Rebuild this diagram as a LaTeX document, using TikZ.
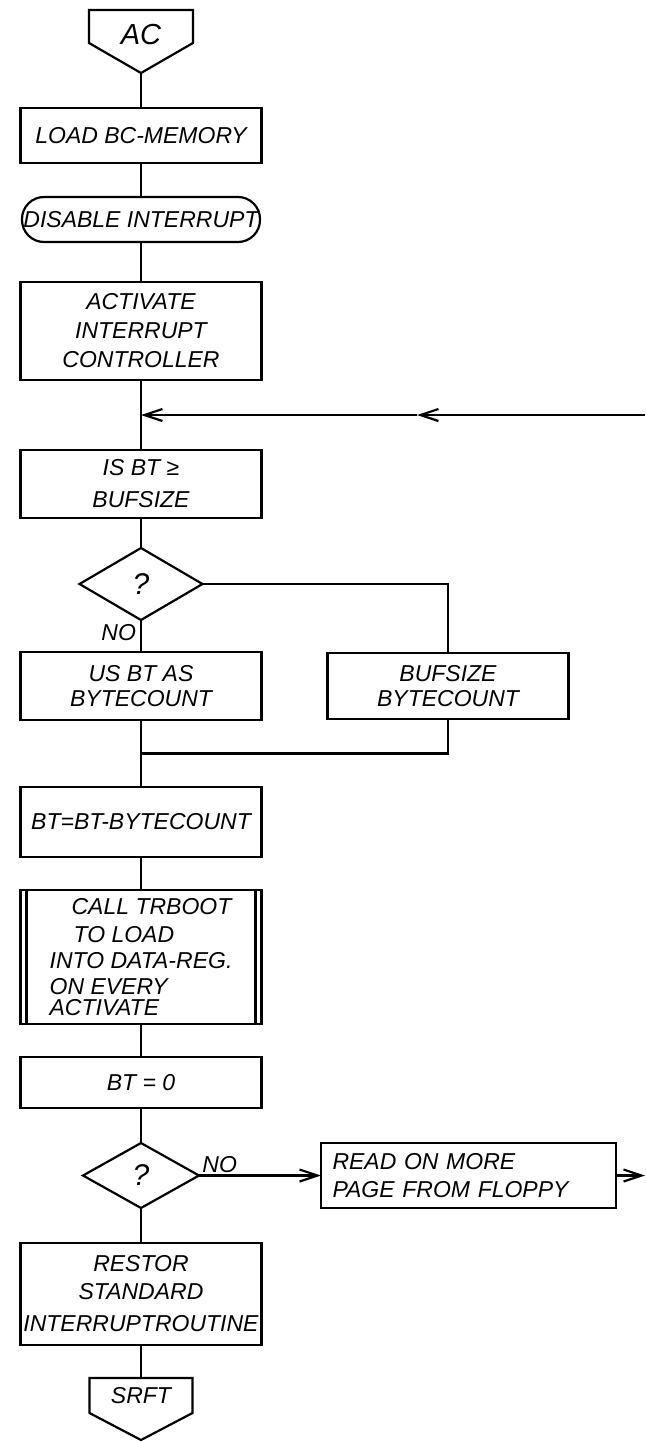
\documentclass[tikz,border=0pt]{standalone}
\usepackage{fontspec}
\setmainfont{Liberation Sans}
\usetikzlibrary{arrows.meta,positioning,calc,shapes.geometric}

\begin{document}
\begin{tikzpicture}[x=1pt,y=1pt,line width=2.2pt,
    font=\itshape\fontsize{23}{29}\selectfont,
    >={Straight Barb[length=18pt,width=12pt]},
    box/.style={draw,rectangle,minimum width=241pt,inner sep=0pt,outer sep=0pt,align=center},
    term/.style={draw,rectangle,rounded corners=22pt,minimum width=238pt,minimum height=45pt,inner sep=0pt,outer sep=0pt},
    decide/.style={draw,diamond,inner sep=0pt,outer sep=0pt,font=\itshape\fontsize{30}{30}\selectfont},
    conn/.style={rectangle,inner sep=0pt,outer sep=0pt}]
  \useasboundingbox (0,0) rectangle (645,-1442);

  % entry connector
  \node[conn,minimum width=104pt,minimum height=50pt,font=\itshape\fontsize{29}{30}\selectfont] (ac) at (141,-35) {AC};
  \coordinate (actip) at ([yshift=-13pt]ac.south);
  \draw (ac.north west) -- (ac.north east) -- ([yshift=17pt]ac.south east) -- (actip) -- ([yshift=17pt]ac.south west) -- cycle;

  \node[box,minimum height=55pt,below=48pt of ac] (load) {LOAD BC-MEMORY};
  \node[term,below=34pt of load] (disable) {DISABLE INTERRUPT};
  \node[box,minimum height=98pt,below=40pt of disable] (activate) {ACTIVATE\\INTERRUPT\\CONTROLLER};
  \node[box,minimum height=68pt,below=70pt of activate] (isbt) {IS BT ≥\\[3pt]BUFSIZE};

  % first question
  \node[decide,minimum width=123pt,minimum height=72pt,below=30pt of isbt] (q1) {?};
  \node[box,minimum height=68pt,below=32pt of q1] (usbt) {US BT AS\\[-4pt]BYTECOUNT};
  \node[box,minimum height=66pt,right=66pt of usbt] (bufsize) {BUFSIZE\\[-4pt]BYTECOUNT};

  \node[box,minimum height=70pt,below=67pt of usbt] (btcalc) {BT=BT-BYTECOUNT};
  \node[box,minimum height=134pt,below=33pt of btcalc,align=left] (trboot) {\hspace*{22pt}CALL TRBOOT\\[-1pt]\hspace*{24pt}TO LOAD\\[-3pt]INTO DATA-REG.\\[-3pt]ON EVERY\\[-8pt]ACTIVATE};
  \node[box,minimum height=51pt,below=33pt of trboot] (btzero) {BT = 0};

  % second question
  \node[decide,minimum width=116pt,minimum height=65pt,below=35pt of btzero] (q2) {?};
  \node[box,minimum width=295pt,minimum height=65pt,text width=272pt,align=left,right=122pt of q2] (readpage) {READ ON MORE\\[-1pt]PAGE FROM FLOPPY};
  \node[box,minimum height=102pt,below=35pt of q2] (restore) {RESTOR\\[-1pt]STANDARD\\[3pt]INTERRUPTROUTINE};

  % exit connector
  \node[conn,minimum width=103pt,minimum height=35pt,below=33pt of restore] (srft) {SRFT};
  \coordinate (srfttip) at ([yshift=-27pt]srft.south);
  \draw (srft.north west) -- (srft.north east) -- (srft.south east) -- (srfttip) -- (srft.south west) -- cycle;

  % predefined process bars
  \draw ([xshift=6pt]trboot.north west) -- ([xshift=6pt]trboot.south west);
  \draw ([xshift=-6pt]trboot.north east) -- ([xshift=-6pt]trboot.south east);

  \coordinate (loopjoin) at ($(activate.south)!0.5!(isbt.north)$);
  \coordinate (loopmid) at ([xshift=276pt]loopjoin);
  \coordinate (loopin) at ([xshift=504pt]loopjoin);
  \coordinate (merge) at ($(usbt.south)!0.5!(btcalc.north)$);
  \coordinate (readout) at ([xshift=29pt]readpage.east);

  \draw (actip) -- (load);
  \draw (load) -- (disable);
  \draw (disable) -- (activate);
  \draw (activate) -- (isbt);
  \draw[->] (loopin) -- (loopmid);
  \draw[->] (loopmid) -- (loopjoin);
  \draw (isbt) -- (q1);
  \draw (q1) -- node[pos=0.38,left=4pt,inner sep=0pt] (no1) {NO} (usbt);
  \draw (q1.east) -| (bufsize.north);
  \draw (usbt) -- (btcalc);
  \draw (bufsize.south) |- (merge);
  \draw (btcalc) -- (trboot);
  \draw (trboot) -- (btzero);
  \draw (btzero) -- (q2);
  \draw[->] (q2) -- node[pos=0.17,above,inner sep=2pt] (no2) {NO} (readpage);
  \draw[->] (readpage) -- (readout);
  \draw (q2) -- (restore);
  \draw (restore) -- (srft);
\end{tikzpicture}
\end{document}
